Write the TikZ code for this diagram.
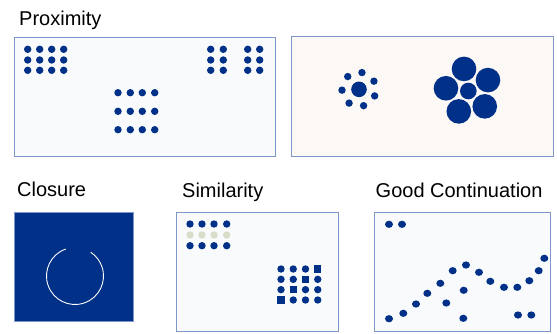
\documentclass[tikz,border=0pt]{standalone}
\usepackage{fontspec}
\setmainfont{Liberation Sans}
\definecolor{gestaltblue}{HTML}{003087}
\definecolor{panelborder}{HTML}{7F97C8}
\definecolor{panelfill}{HTML}{F8FAFB}
\definecolor{warmfill}{HTML}{FCF8F6}
\definecolor{faintdot}{HTML}{D7DDC9}
\begin{document}
\begin{tikzpicture}[x=1pt, y=-1pt,
  panel/.style={draw=panelborder, fill=panelfill, line width=1pt},
  title/.style={anchor=base west, inner sep=0pt, font=\fontsize{20}{24}\selectfont},
  dot/.style={fill=gestaltblue}]
\useasboundingbox (0,0) rectangle (557,333);
\node[title] (proxtitle) at (19,25) {Proximity};
\node[title] (clostitle) at (17,196) {Closure};
\node[title] (simtitle) at (182,197) {Similarity};
\node[title] (conttitle) at (375.5,197) {Good Continuation};
\draw[panel] (14.5,37.5) rectangle (275,156);
\draw[panel, fill=warmfill] (291.5,36.5) rectangle (553,156);
\draw[panel, fill=gestaltblue] (14.5,212) rectangle (133.5,321.5);
\draw[panel] (176.7,212) rectangle (338.3,331);
\draw[panel] (374.3,212) rectangle (550,331);
\foreach \x in {27.7,39.7,51.7,63.7}
  \foreach \y in {49.3,60,70.3}
    \fill[dot] (\x,\y) circle (3.7pt);
\foreach \x in {210.7,223.3,247.7,259.7}
  \foreach \y in {49.3,60,70.3}
    \fill[dot] (\x,\y) circle (3.7pt);
\foreach \x in {118,130.3,142.3,154.7}
  \foreach \y in {92.7,111.3,129.7}
    \fill[dot] (\x,\y) circle (3.7pt);
\fill[dot] (359,89.3) circle (7.8pt);
\foreach \k in {0,...,6}
  \fill[dot] ([shift={(80-\k*51.43:17pt)}]359,89.3) circle (3.7pt);
\fill[dot] (468.3,91) circle (8.3pt);
\foreach \k in {0,...,4}
  \fill[dot] ([shift={(101-\k*72:22.5pt)}]468.3,91) circle (12.3pt);
\draw[white, line width=0.9pt] (75,276) ++(109:28.5pt) arc[start angle=109, end angle=416.5, radius=28.5pt];
\foreach \x in {190,202,214,226.7} {
  \fill[dot] (\x,224) circle (3.7pt);
  \fill[faintdot] (\x,235) circle (3.7pt);
  \fill[dot] (\x,245.7) circle (3.7pt);
}
\foreach \r in {1,...,4}
  \foreach \c in {1,...,4} {
    \ifnum\numexpr\r+\c\relax=5
      \fill[dot] (281+\c*12.25-12.25,269+\r*10.33-10.33) +(-3.7pt,-3.7pt) rectangle +(3.7pt,3.7pt);
    \else
      \fill[dot] (281+\c*12.25-12.25,269+\r*10.33-10.33) circle (3.7pt);
    \fi
  }
\foreach \p in {(389,224.3),(402,224.3),(389,318.7),(403.3,313.3),(416,304),
    (427.3,293.3),(440.3,283.3),(452.7,270.7),(466,265),(479,272.3),
    (490.3,281.3),(504,287.3),(517.3,287.3),(529.3,280.7),(538.7,270.7),
    (544.3,258.3),(446.3,303),(463.7,290.3),(463.3,318.3),(518,315),(531.3,315)}
  \fill[dot] \p ellipse (4pt and 3.6pt);
\end{tikzpicture}
\end{document}
